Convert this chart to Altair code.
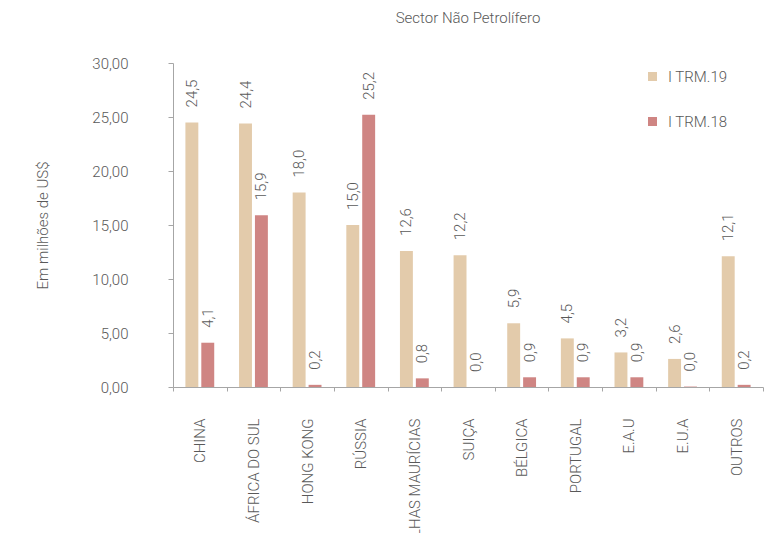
import altair as alt
import pandas as pd

countries = ["CHINA", "ÁFRICA DO SUL", "HONG KONG", "RÚSSIA", "ILHAS MAURÍCIAS",
             "SUIÇA", "BÉLGICA", "PORTUGAL", "E.A.U", "E.U.A", "OUTROS"]
trm19 = [24.5, 24.4, 18.0, 15.0, 12.6, 12.2, 5.9, 4.5, 3.2, 2.6, 12.1]
trm18 = [4.1, 15.9, 0.2, 25.2, 0.8, 0.0, 0.9, 0.9, 0.9, 0.04, 0.2]
series = ["I TRM.19", "I TRM.18"]
colors = ["#e3cbab", "#cf8583"]

rows = []
for c, a, b in zip(countries, trm19, trm18):
    rows.append({"pais": c, "serie": series[0], "valor": a})
    rows.append({"pais": c, "serie": series[1], "valor": b})
df = pd.DataFrame(rows)

FONT = "Roboto"
FW = 300
FS = 15
TXT = "#595959"
AX = "#a6a6a6"

x = alt.X("pais:N", sort=countries, title=None,
          scale=alt.Scale(paddingInner=0, paddingOuter=0),
          axis=alt.Axis(labelAngle=270, labelAlign="right", labelBaseline="middle",
                        labelPadding=27, tickSize=4, tickBand="extent",
                        labelFont=FONT, labelFontSize=FS, labelFontWeight=FW, labelColor=TXT,
                        domainColor=AX, tickColor=AX, labelLimit=400))
xo = alt.XOffset("serie:N", sort=series,
                 scale=alt.Scale(paddingInner=0.1875, paddingOuter=0.78))

base = alt.Chart(df).encode(x=x, xOffset=xo)

bars = base.mark_bar().encode(
    y=alt.Y("valor:Q", scale=alt.Scale(domain=[0, 30], nice=False),
            title="Em milhões de US$",
            axis=alt.Axis(values=[0, 5, 10, 15, 20, 25, 30], grid=False,
                          labelExpr="replace(format(datum.value, '.2f'), '.', ',')",
                          labelFont=FONT, labelFontSize=FS, labelFontWeight=FW, labelColor=TXT,
                          labelPadding=40, tickSize=5, domainColor=AX, tickColor=AX,
                          titleFont=FONT, titleFontSize=FS, titleFontWeight=FW,
                          titleColor=TXT, titlePadding=41)),
    color=alt.Color("serie:N", sort=series,
                    scale=alt.Scale(domain=series, range=colors),
                    legend=alt.Legend(title=None, orient="none", legendX=472, legendY=6,
                                      symbolType="square", symbolSize=81,
                                      symbolStrokeWidth=0,
                                      labelFont=FONT, labelFontSize=FS, labelFontWeight=FW,
                                      labelColor=TXT,
                                      labelOffset=8, rowPadding=29, padding=0)),
)

labels = base.transform_calculate(
    lab="replace(format(datum.valor, '.1f'), '.', ',')"
).mark_text(angle=270, align="left", baseline="middle", dx=15,
            font=FONT, fontSize=FS, fontWeight=FW, color=TXT).encode(
    y=alt.Y("valor:Q"),
    text="lab:N",
)

chart = alt.layer(bars, labels).properties(
    width=590, height=324,
    title=alt.Title("Sector Não Petrolífero", font=FONT, fontSize=FS,
                    fontWeight=FW, color=TXT, offset=30),
    autosize=alt.AutoSizeParams(type="none"),
    padding={"left": 165, "top": 55, "right": 5, "bottom": 146},
).configure_view(stroke=None)

chart.save("out.html", embed_options={"renderer": "svg", "actions": False})
